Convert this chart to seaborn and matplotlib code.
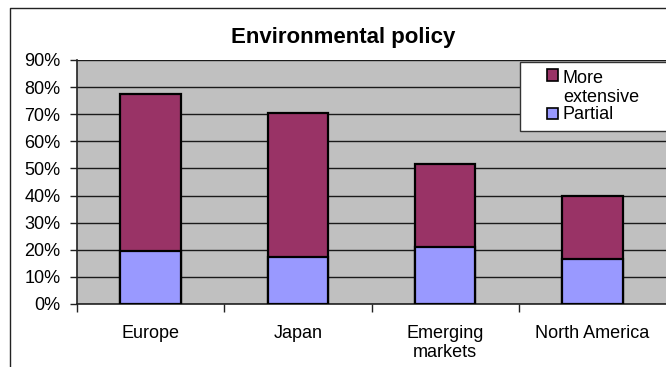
import matplotlib
matplotlib.use("Agg")
import matplotlib.pyplot as plt
import seaborn as sns
import pandas as pd
from matplotlib.patches import Rectangle
from matplotlib.lines import Line2D

# Share of companies by region (%)
regions = ["Europe", "Japan", "Emerging\nmarkets", "North America"]
partial = [19.5, 17.4, 21.1, 16.6]
more_extensive = [57.8, 53.0, 30.6, 23.3]
series_labels = ["More\nextensive", "Partial"]
y_ticks = [0, 10, 20, 30, 40, 50, 60, 70, 80, 90]
title = "Environmental policy"

COL_MORE = "#993366"
COL_PARTIAL = "#9999FF"
COL_BG = "#C0C0C0"

sns.set_style("white")
plt.rcParams["font.family"] = ["Liberation Sans", "DejaVu Sans"]
plt.rcParams["text.color"] = "black"
plt.rcParams["xtick.labelcolor"] = "black"
plt.rcParams["ytick.labelcolor"] = "black"

df = pd.DataFrame({"region": regions, "partial": partial, "more": more_extensive})
df["total"] = df["partial"] + df["more"]

W, H = 666, 367
fig = plt.figure(figsize=(W / 100, H / 100), dpi=100)


def fx(px):
    return px / W


def fy(py):
    return 1 - py / H


ax = fig.add_axes([fx(77), fy(304), (666 - 77) / W, (304 - 60) / H])
ax.set_facecolor(COL_BG)

# stacked columns: full height in maroon, partial share drawn over its base
sns.barplot(data=df, x="region", y="total", color=COL_MORE, saturation=1,
            edgecolor="black", linewidth=1.6, width=0.41, ax=ax, zorder=3)
sns.barplot(data=df, x="region", y="partial", color=COL_PARTIAL, saturation=1,
            edgecolor="black", linewidth=1.6, width=0.41, ax=ax, zorder=4)

ax.set_xlim(-0.5, 3.5)
ax.set_ylim(0, 90)
ax.set_yticks(y_ticks)
ax.set_yticklabels([f"{v}%" for v in y_ticks])
ax.yaxis.grid(True, color="#1a1a1a", linewidth=1)
ax.set_axisbelow(True)

ax.set_xticks(range(len(regions)))
ax.set_xticklabels(regions, linespacing=1.15)
ax.set_xticks([-0.5, 0.5, 1.5, 2.5], minor=True)
ax.tick_params(axis="x", which="major", length=0, pad=15, labelsize=13)
ax.tick_params(axis="x", which="minor", bottom=True, length=6, width=1,
               color="#222222", direction="out")
ax.tick_params(axis="y", left=True, length=5, width=1, color="#222222",
               direction="out", pad=7, labelsize=13)
ax.set_xlabel("")
ax.set_ylabel("")

for side in ["top", "right"]:
    ax.spines[side].set_visible(False)
for side in ["left", "bottom"]:
    ax.spines[side].set_color("#222222")
    ax.spines[side].set_linewidth(1.2)

# chart title
fig.text(fx(343), fy(43.5), title, fontsize=16, fontweight="bold",
         ha="center", va="baseline")

# legend box
fig.patches.append(Rectangle((fx(520), fy(131)), fx(160), (131 - 62) / H,
                             transform=fig.transFigure, facecolor="white",
                             edgecolor="#333333", linewidth=1, zorder=5))
for (top, bottom), col in zip([(69, 81), (108, 119)], [COL_MORE, COL_PARTIAL]):
    fig.patches.append(Rectangle((fx(547), fy(bottom)), fx(11), (bottom - top) / H,
                                 transform=fig.transFigure, facecolor=col,
                                 edgecolor="black", linewidth=1.2, zorder=6))
fig.text(fx(563), fy(102), series_labels[0], fontsize=13, ha="left",
         multialignment="left", va="baseline", linespacing=1.15, zorder=7)
fig.text(fx(563), fy(119), series_labels[1], fontsize=13, ha="left",
         va="baseline", zorder=7)

# outer chart frame
fig.lines.append(Line2D([fx(9.5), fx(9.5), fx(700)], [fy(400), fy(7.5), fy(7.5)],
                        transform=fig.transFigure, color="#222222", linewidth=1))

fig.savefig("out.png", dpi=100)
